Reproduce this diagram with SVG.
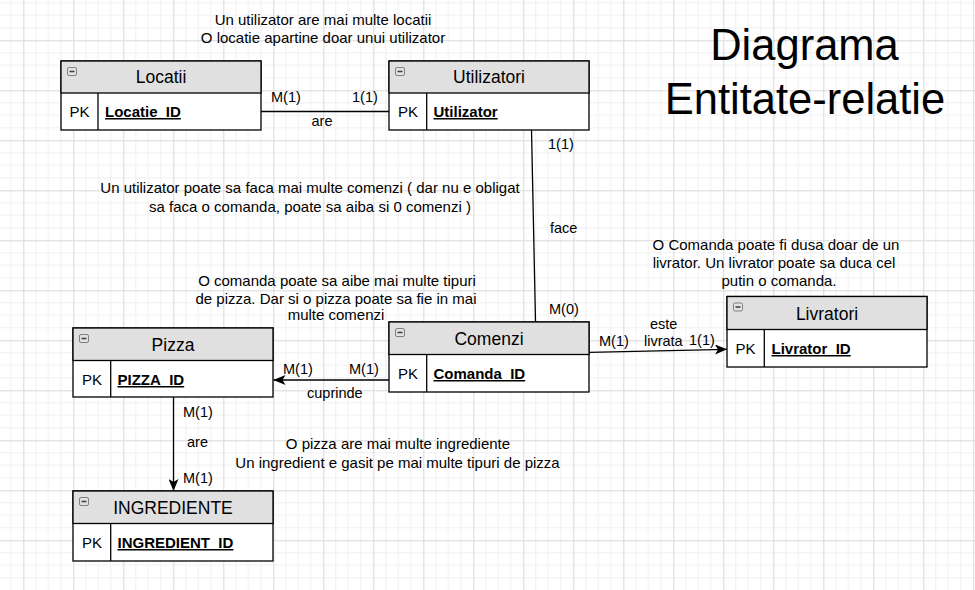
<svg xmlns="http://www.w3.org/2000/svg" width="975" height="590" viewBox="0 0 975 590">
<defs>
<pattern id="grid" patternUnits="userSpaceOnUse" x="23.3" y="40.3" width="50" height="50">
<path d="M12.5 0V50M25 0V50M37.5 0V50M0 12.5H50M0 25H50M0 37.5H50" stroke="#f0f0f0" stroke-width="1" fill="none"/>
<path d="M0.5 0V50M0 0.5H50" stroke="#d9d9d9" stroke-width="1" fill="none"/>
</pattern>
<marker id="arr" markerUnits="userSpaceOnUse" viewBox="0 0 12 10" refX="12" refY="5" markerWidth="12" markerHeight="10" orient="auto">
<path d="M0 0L12 5L0 10L3 5Z" fill="#000"/>
</marker>
<style>
text{font-family:"Liberation Sans",Arial,sans-serif;fill:#000}
.hd{fill:#e0e0e0;stroke:#000;stroke-width:1.3}
.bd{fill:#fff;stroke:#000;stroke-width:1.3}
.dv{stroke:#000;stroke-width:1.3}
.ic{fill:#e2e2e2;stroke:#808080;stroke-width:1}
.icm{stroke:#444;stroke-width:1.6}
.ht{font-size:17.5px;text-anchor:middle}
.pk{font-size:15px;text-anchor:middle}
.fk{font-size:15px;font-weight:bold;text-decoration:underline}
.lb{font-size:14.5px}
.nt{font-size:15px;text-anchor:middle}
.ttl{font-size:43.5px;text-anchor:middle}
.ln{stroke:#000;stroke-width:1.3;fill:none}
</style>
</defs>
<rect width="975" height="590" fill="#fff"/>
<rect width="975" height="590" fill="url(#grid)"/>

<g id="title">
<text class="ttl" x="804.5" y="60">Diagrama</text>
<text class="ttl" x="805" y="114">Entitate-relatie</text>
</g>

<g id="notes">
<text class="nt" x="323" y="25">Un utilizator are mai multe locatii</text>
<text class="nt" x="323" y="43">O locatie apartine doar unui utilizator</text>
<text class="nt" x="310" y="193">Un utilizator poate sa faca mai multe comenzi ( dar nu e obligat</text>
<text class="nt" x="310" y="212">sa faca o comanda, poate sa aiba si 0 comenzi )</text>
<text class="nt" x="337" y="286">O comanda poate sa aibe mai multe tipuri</text>
<text class="nt" x="336" y="304">de pizza. Dar si o pizza poate sa fie in mai</text>
<text class="nt" x="336" y="320">multe comenzi</text>
<text class="nt" x="776" y="250">O Comanda poate fi dusa doar de un</text>
<text class="nt" x="774" y="268">livrator. Un livrator poate sa duca cel</text>
<text class="nt" x="779" y="286">putin o comanda.</text>
<text class="nt" x="398" y="449">O pizza are mai multe ingrediente</text>
<text class="nt" x="397.5" y="468">Un ingredient e gasit pe mai multe tipuri de pizza</text>
</g>

<g id="connectors">
<path class="ln" d="M261 111.5H389"/>
<path class="ln" d="M531.5 129L535.5 322"/>
<path class="ln" d="M389 380H273.5" marker-end="url(#arr)"/>
<path class="ln" d="M589 352.3L727 349.3" marker-end="url(#arr)"/>
<path class="ln" d="M173.5 397V491" marker-end="url(#arr)"/>
<text class="lb" x="271" y="102">M(1)</text>
<text class="lb" x="352" y="102">1(1)</text>
<text class="lb" x="311.5" y="126">are</text>
<text class="lb" x="548" y="149">1(1)</text>
<text class="lb" x="550" y="233">face</text>
<text class="lb" x="549" y="314">M(0)</text>
<text class="lb" x="283" y="374">M(1)</text>
<text class="lb" x="349" y="374">M(1)</text>
<text class="lb" x="307" y="398">cuprinde</text>
<text class="lb" x="599" y="346">M(1)</text>
<text class="lb" x="650" y="329">este</text>
<text class="lb" x="644" y="346">livrata</text>
<text class="lb" x="689" y="345">1(1)</text>
<text class="lb" x="183" y="417">M(1)</text>
<text class="lb" x="187" y="447">are</text>
<text class="lb" x="183" y="483">M(1)</text>
</g>

<g id="locatii">
<rect class="bd" x="61" y="61" width="200" height="69"/>
<rect class="hd" x="61" y="61" width="200" height="32"/>
<path class="dv" d="M98 93V130"/>
<rect class="ic" x="67.5" y="67.5" width="9" height="8" rx="1.5"/>
<path class="icm" d="M69.5 71.5H74.5"/>
<text class="ht" x="161" y="83">Locatii</text>
<text class="pk" x="79.5" y="117">PK</text>
<text class="fk" x="105" y="117">Locatie_ID</text>
</g>

<g id="utilizatori">
<rect class="bd" x="389" y="61" width="200" height="69"/>
<rect class="hd" x="389" y="61" width="200" height="32"/>
<path class="dv" d="M426.7 93V130"/>
<rect class="ic" x="395.5" y="67.5" width="9" height="8" rx="1.5"/>
<path class="icm" d="M397.5 71.5H402.5"/>
<text class="ht" x="489" y="83">Utilizatori</text>
<text class="pk" x="408" y="117">PK</text>
<text class="fk" x="433.5" y="117">Utilizator</text>
</g>

<g id="comenzi">
<rect class="bd" x="389" y="322" width="200" height="70"/>
<rect class="hd" x="389" y="322" width="200" height="32.5"/>
<path class="dv" d="M426.7 354.5V392"/>
<rect class="ic" x="395.5" y="328.5" width="9" height="8" rx="1.5"/>
<path class="icm" d="M397.5 332.5H402.5"/>
<text class="ht" x="489" y="344.5">Comenzi</text>
<text class="pk" x="408" y="379">PK</text>
<text class="fk" x="433.5" y="379">Comanda_ID</text>
</g>

<g id="pizza">
<rect class="bd" x="73" y="328" width="200" height="69"/>
<rect class="hd" x="73" y="328" width="200" height="32.5"/>
<path class="dv" d="M110.7 360.5V397"/>
<rect class="ic" x="79.5" y="334.5" width="9" height="8" rx="1.5"/>
<path class="icm" d="M81.5 338.5H86.5"/>
<text class="ht" x="173" y="350.5">Pizza</text>
<text class="pk" x="92" y="385">PK</text>
<text class="fk" x="117.5" y="385">PIZZA_ID</text>
</g>

<g id="ingrediente">
<rect class="bd" x="73" y="491" width="200" height="70"/>
<rect class="hd" x="73" y="491" width="200" height="32.5"/>
<path class="dv" d="M110.7 523.5V561"/>
<rect class="ic" x="79.5" y="497.5" width="9" height="8" rx="1.5"/>
<path class="icm" d="M81.5 501.5H86.5"/>
<text class="ht" x="173" y="513.5">INGREDIENTE</text>
<text class="pk" x="92" y="548">PK</text>
<text class="fk" x="117.5" y="548">INGREDIENT_ID</text>
</g>

<g id="livratori">
<rect class="bd" x="727" y="296.5" width="200" height="70.5"/>
<rect class="hd" x="727" y="296.5" width="200" height="33"/>
<path class="dv" d="M764.3 329.5V367"/>
<rect class="ic" x="733.5" y="303" width="9" height="8" rx="1.5"/>
<path class="icm" d="M735.5 307H740.5"/>
<text class="ht" x="827" y="319.5">Livratori</text>
<text class="pk" x="745.5" y="354">PK</text>
<text class="fk" x="771.5" y="354">Livrator_ID</text>
</g>
</svg>
